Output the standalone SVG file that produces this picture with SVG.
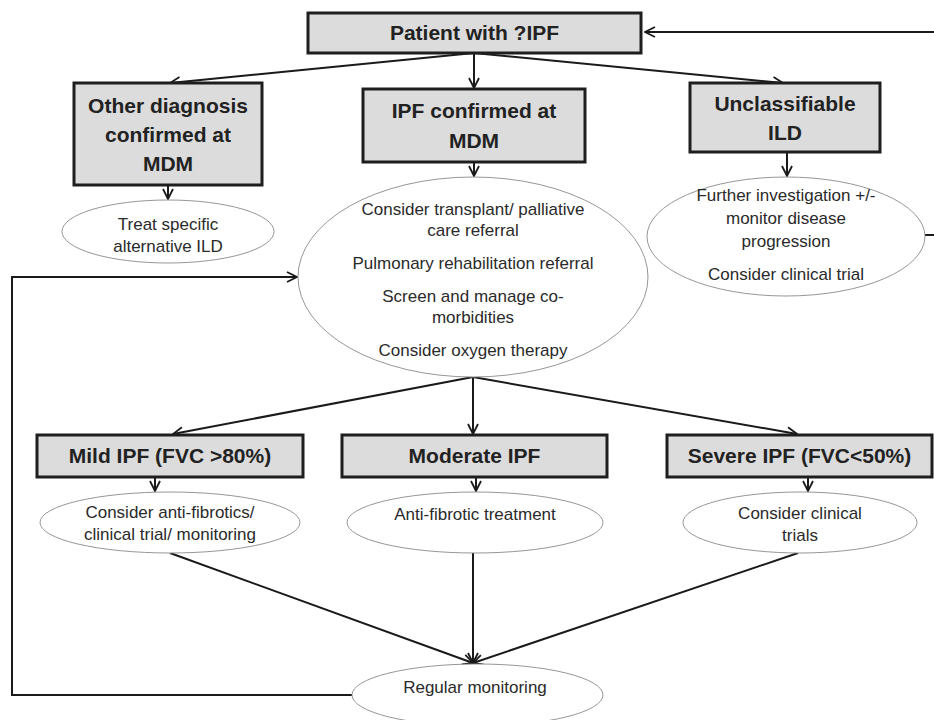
<svg xmlns="http://www.w3.org/2000/svg" width="934" height="720" viewBox="0 0 934 720">
<style>
.box{fill:#dcdcdc;stroke:#1e1e1e;stroke-width:3}
.ell{fill:#fff;stroke:#8a8a8a;stroke-width:0.9}
.bt{font-family:"Liberation Sans",Arial,sans-serif;font-weight:bold;font-size:21px;fill:#222;text-anchor:middle}
.et{font-family:"Liberation Sans",Arial,sans-serif;font-size:17px;fill:#2a2a2a;text-anchor:middle}
.c{fill:none;stroke:#1a1a1a;stroke-width:2}
</style>
<defs>
<marker id="ah" viewBox="0 0 12 12" refX="11" refY="6" markerWidth="12" markerHeight="12" markerUnits="userSpaceOnUse" orient="auto">
<path d="M1,1 L11,6 L1,11" fill="none" stroke="#1a1a1a" stroke-width="1.8"/>
</marker>
</defs>
<rect width="934" height="720" fill="#fff"/>
<g id="connectors">
<line class="c" x1="934" y1="32" x2="645" y2="32" marker-end="url(#ah)"/>
<line class="c" x1="474" y1="53" x2="170" y2="83" marker-end="url(#ah)"/>
<line class="c" x1="474" y1="53" x2="474" y2="88" marker-end="url(#ah)"/>
<line class="c" x1="474" y1="53" x2="783" y2="83" marker-end="url(#ah)"/>
<line class="c" x1="168" y1="185" x2="168" y2="199" marker-end="url(#ah)"/>
<line class="c" x1="474" y1="162" x2="474" y2="176" marker-end="url(#ah)"/>
<line class="c" x1="787" y1="152" x2="787" y2="176" marker-end="url(#ah)"/>
<line class="c" x1="925" y1="235" x2="934" y2="235"/>
<polyline class="c" points="352,695 12,695 12,277 297,277" marker-end="url(#ah)"/>
<line class="c" x1="473" y1="377" x2="173" y2="434" marker-end="url(#ah)"/>
<line class="c" x1="473" y1="377" x2="473" y2="434" marker-end="url(#ah)"/>
<line class="c" x1="473" y1="377" x2="797" y2="434" marker-end="url(#ah)"/>
<line class="c" x1="155" y1="477" x2="155" y2="491" marker-end="url(#ah)"/>
<line class="c" x1="476" y1="477" x2="476" y2="491" marker-end="url(#ah)"/>
<line class="c" x1="808" y1="477" x2="808" y2="491" marker-end="url(#ah)"/>
<line class="c" x1="170" y1="553" x2="473" y2="663" marker-end="url(#ah)"/>
<line class="c" x1="473" y1="553" x2="473" y2="663" marker-end="url(#ah)"/>
<line class="c" x1="798" y1="553" x2="473" y2="663" marker-end="url(#ah)"/>
</g>
<g id="patient">
<rect class="box" x="308" y="13" width="333" height="40"/>
<text class="bt" x="474.5" y="40">Patient with ?IPF</text>
</g>
<g id="other-diagnosis">
<rect class="box" x="74" y="83" width="188" height="102"/>
<text class="bt" x="168" y="113">Other diagnosis</text>
<text class="bt" x="168" y="142">confirmed at</text>
<text class="bt" x="168" y="171">MDM</text>
</g>
<g id="ipf-confirmed">
<rect class="box" x="363" y="89" width="222" height="73"/>
<text class="bt" x="474" y="118">IPF confirmed at</text>
<text class="bt" x="474" y="148">MDM</text>
</g>
<g id="unclassifiable">
<rect class="box" x="690" y="83" width="190" height="69"/>
<text class="bt" x="785" y="111">Unclassifiable</text>
<text class="bt" x="785" y="140">ILD</text>
</g>
<g id="treat-specific">
<ellipse class="ell" cx="168" cy="231.5" rx="106" ry="31.5"/>
<text class="et" x="168" y="230">Treat specific</text>
<text class="et" x="168" y="252">alternative ILD</text>
</g>
<g id="ipf-management">
<ellipse class="ell" cx="473" cy="277" rx="175" ry="100"/>
<text class="et" x="473" y="215">Consider transplant/ palliative</text>
<text class="et" x="473" y="236">care referral</text>
<text class="et" x="473" y="269">Pulmonary rehabilitation referral</text>
<text class="et" x="473" y="302">Screen and manage co-</text>
<text class="et" x="473" y="323">morbidities</text>
<text class="et" x="473" y="356">Consider oxygen therapy</text>
</g>
<g id="further-investigation">
<ellipse class="ell" cx="786" cy="236.5" rx="139" ry="59.5"/>
<text class="et" x="786" y="201">Further investigation +/-</text>
<text class="et" x="786" y="224">monitor disease</text>
<text class="et" x="786" y="247">progression</text>
<text class="et" x="786" y="280">Consider clinical trial</text>
</g>
<g id="mild">
<rect class="box" x="37" y="435" width="266" height="42"/>
<text class="bt" x="170" y="463">Mild IPF (FVC &gt;80%)</text>
</g>
<g id="moderate">
<rect class="box" x="342" y="435" width="265" height="42"/>
<text class="bt" x="474.5" y="463">Moderate IPF</text>
</g>
<g id="severe">
<rect class="box" x="667" y="435" width="265" height="42"/>
<text class="bt" x="799.5" y="463">Severe IPF (FVC&lt;50%)</text>
</g>
<g id="mild-action">
<ellipse class="ell" cx="170" cy="522.5" rx="130" ry="30.5"/>
<text class="et" x="170" y="518">Consider anti-fibrotics/</text>
<text class="et" x="170" y="540">clinical trial/ monitoring</text>
</g>
<g id="moderate-action">
<ellipse class="ell" cx="475" cy="522.5" rx="128" ry="30.5"/>
<text class="et" x="475" y="520">Anti-fibrotic treatment</text>
</g>
<g id="severe-action">
<ellipse class="ell" cx="800" cy="522.5" rx="117" ry="30.5"/>
<text class="et" x="800" y="519">Consider clinical</text>
<text class="et" x="800" y="541">trials</text>
</g>
<g id="regular-monitoring">
<ellipse class="ell" cx="477.5" cy="695" rx="125.5" ry="31"/>
<text class="et" x="475" y="693">Regular monitoring</text>
</g>
</svg>
